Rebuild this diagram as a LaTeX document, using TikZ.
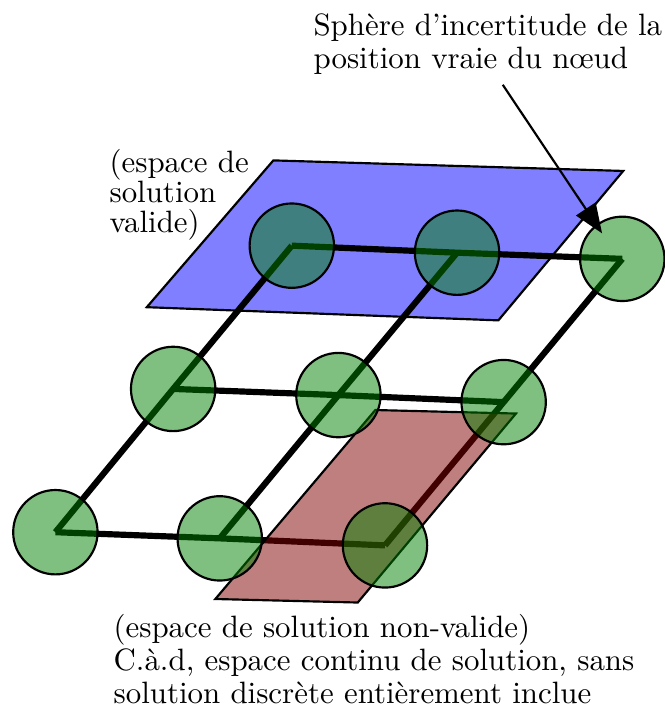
\documentclass[tikz,border=0pt]{standalone}
\usepackage{tikz}
\usetikzlibrary{arrows.meta}
\definecolor{ValidBlue}{HTML}{0000FF}
\definecolor{InvalidRed}{HTML}{800000}
\definecolor{SphereGreen}{HTML}{008000}
\tikzset{
  sphere/.style={
    circle,draw=black,line width=0.7pt,
    fill=SphereGreen,fill opacity=0.5,draw opacity=1,
    minimum size=0.96cm,inner sep=0pt
  },
  gridline/.style={line width=2pt,draw=black},
  validplane/.style={draw=black,line width=0.7pt,fill=ValidBlue,fill opacity=0.5},
  invalidplane/.style={draw=black,line width=0.7pt,fill=InvalidRed,fill opacity=0.5},
  annot/.style={
    font=\fontsize{10}{10.7}\selectfont,
    align=left,anchor=base west,inner sep=0pt
  },
}

\begin{document}
\begin{tikzpicture}
  \useasboundingbox (0,0) rectangle (7.565,8.055);
  % grid of true positions
  \coordinate (p00) at (3.32, 5.26);
  \coordinate (p01) at (5.20, 5.18);
  \coordinate (p02) at (7.08, 5.11);
  \coordinate (p10) at (1.97, 3.63);
  \coordinate (p11) at (3.85, 3.56);
  \coordinate (p12) at (5.73, 3.48);
  \coordinate (p20) at (0.63, 2.00);
  \coordinate (p21) at (2.50, 1.93);
  \coordinate (p22) at (4.38, 1.85);
  % valid solution space
  \draw[validplane] (3.11, 6.23) -- (7.09, 6.11) -- (5.67, 4.41) -- (1.67, 4.56) -- cycle;
  \draw[gridline] (p00) -- (p01) -- (p02);
  \draw[gridline] (p10) -- (p11) -- (p12);
  \draw[gridline] (p20) -- (p21) -- (p22);
  \draw[gridline] (p00) -- (p10) -- (p20);
  \draw[gridline] (p01) -- (p11) -- (p21);
  \draw[gridline] (p02) -- (p12) -- (p22);
  % non-valid solution space
  \draw[invalidplane] (4.27, 3.39) -- (5.87, 3.35) -- (4.07, 1.20) -- (2.45, 1.24) -- cycle;
  \node[sphere] (s00) at (p00) {};
  \node[sphere] (s01) at (p01) {};
  \node[sphere] (s02) at (p02) {};
  \node[sphere] (s10) at (p10) {};
  \node[sphere] (s11) at (p11) {};
  \node[sphere] (s12) at (p12) {};
  \node[sphere] (s20) at (p20) {};
  \node[sphere] (s21) at (p21) {};
  \node[sphere] (s22) at (p22) {};
  % labels (anchored on their last line)
  \node[annot] (lblsphere) at (3.56, 7.28) {Sphère d’incertitude de la\\position vraie du nœud};
  \node[annot, font=\fontsize{10}{9.7}\selectfont] (lblvalid) at (1.24, 5.41) {(espace de\\solution\\valide)};
  \node[annot] (lblinvalid) at (1.286, 0.05) {(espace de solution non-valide)\\C.à.d, espace continu de solution, sans\\solution discrète entièrement inclue};
  \coordinate (arrowsrc) at (5.72, 7.09);
  \coordinate (arrowtip) at (6.85, 5.40);
  \draw[line width=0.7pt, -{Triangle[length=9.5pt,width=7.5pt]}] (arrowsrc) -- (arrowtip);
\end{tikzpicture}
\end{document}
